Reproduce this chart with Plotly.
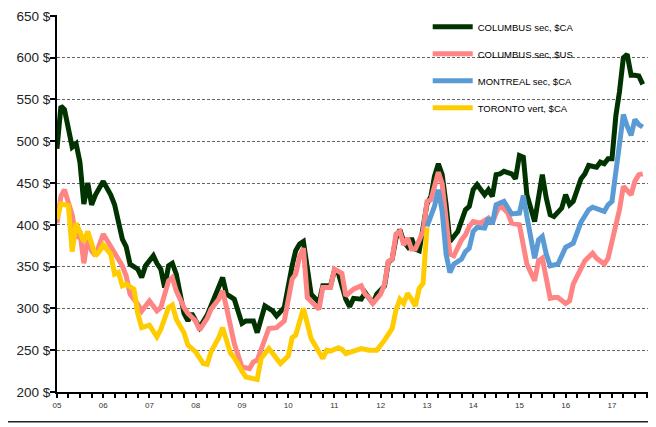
import plotly.graph_objects as go
import pandas as pd

# months since January 2005
green_m = [0, 1, 2, 3, 4, 5, 6, 7, 8, 9, 10, 12, 14, 15, 16, 17, 18, 19, 21, 22, 23, 25, 26, 27, 28, 29, 30, 31,
           33, 34, 35, 37, 39, 41, 42, 43, 44, 46, 48, 49, 51, 52, 54, 56, 57, 59, 61, 62, 63, 64, 66, 67, 68, 69,
           71, 72, 73, 75, 76, 77, 79, 80, 82, 83, 85, 86, 87, 88, 89, 90, 91, 92, 93, 94, 95, 96, 97, 98, 99, 100,
           101, 102, 104, 105, 106, 107, 108, 109, 110, 111, 112, 113, 114, 115, 116, 118, 119, 120, 121, 122, 124,
           125, 126, 127, 128, 129, 131, 132, 133, 134, 136, 137, 138, 140, 141, 142, 143, 144, 145, 146, 147, 148,
           149, 150, 151, 152]
green_v = [491, 542, 538, 511, 493, 497, 475, 425, 450, 424, 436, 452, 436, 424, 401, 383, 374, 353, 347, 337, 351,
           363, 354, 347, 325, 351, 354, 341, 294, 285, 294, 277, 292, 313, 325, 337, 317, 311, 282, 285, 285, 271,
           303, 297, 291, 301, 351, 369, 377, 380, 317, 311, 307, 327, 327, 345, 342, 311, 302, 312, 311, 319, 306,
           317, 327, 355, 359, 384, 394, 380, 374, 384, 371, 369, 394, 425, 434, 458, 473, 460, 424, 380, 392, 404,
           418, 422, 442, 448, 442, 436, 442, 434, 460, 461, 464, 461, 455, 483, 481, 436, 404, 436, 460, 432, 412,
           410, 420, 436, 424, 428, 455, 461, 471, 469, 475, 473, 479, 479, 531, 559, 600, 604, 579, 579, 578, 568]

pink_m = [0, 1, 2, 4, 5, 6, 7, 8, 9, 10, 12, 14, 15, 17, 18, 19, 21, 22, 24, 26, 27, 28, 29, 30, 31, 33, 34, 36, 37,
          39, 40, 42, 43, 44, 46, 47, 48, 50, 51, 52, 54, 55, 57, 59, 61, 62, 63, 64, 65, 67, 68, 69, 71, 72, 73, 74,
          75, 77, 79, 80, 81, 82, 84, 85, 86, 87, 88, 89, 90, 91, 92, 93, 95, 96, 97, 98, 99, 100, 101, 102, 103,
          105, 106, 107, 108, 110, 112, 113, 114, 115, 117, 118, 120, 121, 122, 124, 125, 126, 127, 128, 129, 130,
          132, 133, 134, 136, 137, 139, 140, 142, 143, 144, 145, 146, 147, 148, 149, 150, 151, 152]
pink_v = [402, 434, 442, 412, 384, 392, 354, 384, 369, 363, 389, 374, 368, 351, 339, 317, 305, 297, 309, 297, 301,
          317, 333, 337, 321, 301, 294, 285, 274, 288, 299, 311, 321, 301, 258, 244, 230, 228, 236, 238, 265, 276,
          277, 285, 335, 341, 362, 372, 313, 303, 299, 325, 325, 347, 345, 342, 315, 323, 327, 317, 313, 306, 317,
          329, 356, 359, 389, 392, 376, 384, 371, 371, 392, 428, 430, 448, 463, 449, 408, 365, 363, 382, 388, 398,
          404, 402, 408, 402, 414, 424, 414, 402, 400, 372, 353, 333, 357, 360, 337, 312, 313, 313, 306, 309, 329,
          348, 357, 366, 360, 353, 360, 380, 400, 418, 446, 440, 436, 452, 460, 461]

blue_m = [96, 98, 99, 100, 101, 102, 103, 105, 106, 107, 108, 109, 111, 112, 113, 114, 116, 117, 118, 120, 121, 122,
          123, 124, 125, 126, 127, 128, 130, 131, 132, 134, 135, 136, 138, 139, 142, 143, 144, 145, 146, 147, 148,
          149, 150, 151, 152]
blue_v = [398, 422, 442, 416, 365, 343, 353, 359, 368, 372, 392, 397, 396, 408, 401, 424, 428, 420, 413, 414, 435,
          410, 384, 360, 382, 386, 365, 351, 353, 363, 373, 378, 389, 403, 418, 421, 416, 424, 428, 463, 503, 532,
          518, 507, 526, 520, 517]

yellow_m = [0, 1, 3, 4, 5, 7, 8, 10, 11, 12, 14, 15, 16, 17, 18, 20, 21, 22, 24, 26, 27, 29, 30, 31, 33, 34, 36, 38,
            39, 40, 42, 43, 45, 46, 48, 49, 52, 53, 55, 56, 58, 60, 61, 62, 64, 66, 67, 69, 70, 71, 73, 74, 75, 77,
            79, 81, 83, 85, 87, 88, 89, 90, 91, 92, 93, 94, 95, 96]
yellow_v = [407, 425, 423, 368, 402, 380, 392, 363, 368, 376, 365, 341, 343, 327, 329, 323, 294, 277, 280, 266, 275,
            301, 304, 287, 271, 256, 248, 234, 233, 248, 265, 277, 247, 241, 225, 218, 215, 240, 252, 246, 234, 243,
            265, 268, 300, 264, 255, 240, 250, 249, 253, 251, 246, 249, 252, 250, 250, 262, 276, 298, 311, 306, 318,
            311, 303, 324, 330, 397]

series_names = ["COLUMBUS sec, $CA", "COLUMBUS sec, $US", "MONTREAL sec, $CA", "TORONTO vert, $CA"]
series_colors = ["#003300", "#FF8585", "#5B9BD5", "#FFCC00"]
y_ticks = [200, 250, 300, 350, 400, 450, 500, 550, 600, 650]
y_tick_text = [f"{v} $" for v in y_ticks]


def to_dates(months):
    return [pd.Timestamp(2005 + m // 12, m % 12 + 1, 1) for m in months]


fig = go.Figure()
for name, color, m, v in zip(series_names, series_colors,
                             [green_m, pink_m, blue_m, yellow_m],
                             [green_v, pink_v, blue_v, yellow_v]):
    fig.add_trace(go.Scatter(x=to_dates(m), y=v, name=name, mode="lines",
                             line=dict(color=color, width=5), legendgroup=name))

fig.update_layout(
    width=656, height=427,
    margin=dict(l=49, r=11, t=4, b=43),
    paper_bgcolor="white", plot_bgcolor="white",
    font=dict(family="Liberation Sans, Arial, sans-serif", color="#000"),
    showlegend=True,
    legend=dict(x=0.622, y=1.007, xanchor="left", yanchor="top",
                bgcolor="rgba(0,0,0,0)", font=dict(size=9.5, color="#000"),
                tracegroupgap=8, itemwidth=40),
    shapes=[dict(type="line", xref="paper", yref="paper", x0=-0.1, x1=1.03,
                 y0=-0.079, y1=-0.079, line=dict(color="#222", width=1.5))],
)
fig.update_yaxes(range=[200, 651], tickmode="array", tickvals=y_ticks, ticktext=y_tick_text,
                 showgrid=True, gridcolor="#666", gridwidth=1, griddash="3px,2px",
                 showline=True, linecolor="#000", linewidth=2,
                 ticks="outside", ticklen=5, tickcolor="#000", tickwidth=1.5, ticklabelstandoff=-3,
                 ticklabeloverflow="allow",
                 tickfont=dict(size=13.5, color="#222"), zeroline=False, automargin=False)
fig.update_xaxes(type="date", range=["2005-01-01", "2017-11-21"],
                 tick0="2005-01-01", dtick="M12", tickformat="%y",
                 showgrid=False, showline=True, linecolor="#000", linewidth=2,
                 ticks="outside", ticklen=4, tickcolor="#000", tickwidth=1.5,
                 minor=dict(dtick="M3", ticks="outside", ticklen=4, tickcolor="#000", tickwidth=1.5, showgrid=False),
                 tickfont=dict(size=8, color="#333",
                               family="Liberation Sans Narrow, Arial Narrow, Liberation Sans, sans-serif"),
                 zeroline=False, automargin=False)

fig.write_html("out.html")
